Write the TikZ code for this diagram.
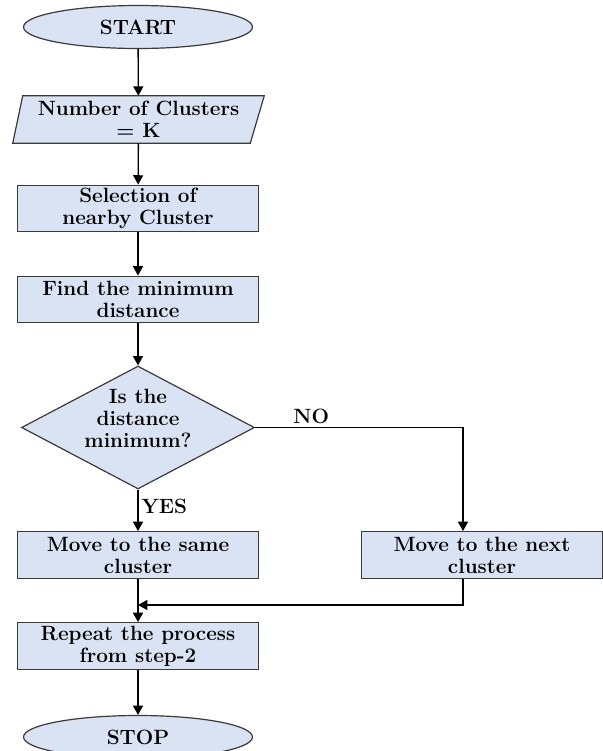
\documentclass[tikz,border=0pt]{standalone}
\usepackage{xcolor}
\usepackage{tikz}
\usetikzlibrary{shapes.geometric,arrows.meta,backgrounds}

\definecolor{boxfill}{HTML}{DAE3F3}
\definecolor{boxline}{HTML}{3A3A3A}

\begin{document}
\begin{tikzpicture}[x=0.75pt,y=-0.75pt,
        >={Triangle[width=7.5pt,length=7pt]},
        font=\fontsize{15.5}{16.5}\selectfont\bfseries,
        base/.style={draw=boxline,fill=boxfill,line width=0.9pt,align=center,inner sep=0pt},
        terminal/.style={base,ellipse,minimum width=171.75pt,minimum height=32.25pt},
        process/.style={base,rectangle,minimum width=180.75pt,minimum height=35pt},
        inout/.style={align=center,inner sep=0pt,minimum width=188.25pt,minimum height=35.25pt},
        decision/.style={base,diamond,aspect=1.9,inner sep=-6pt,
            minimum width=174.75pt,minimum height=92.25pt,text depth=13.5pt},
        flow/.style={->,line width=1pt},
        tag/.style={inner sep=2pt}]
        \useasboundingbox (0,0) rectangle (603,751);

        % main column
        \node[terminal] (start) at (138,27) {START};
        \node[inout] (clusters) at (138.5,119.5) {Number of Clusters\\= K};
        \node[process] (select) at (138,208.5) {Selection of\\nearby Cluster};
        \node[process] (findmin) at (138,299.5) {Find the minimum\\distance};
        \node[decision] (check) at (138,427.5) {Is the\\distance\\minimum?};
        \node[process] (same) at (138,555) {Move to the same\\cluster};
        \node[process] (repeat) at (138,646) {Repeat the process\\from step-2};
        \node[terminal] (stop) at (138,737) {STOP};

        % parallelogram behind the input text
        \begin{scope}[on background layer]
            \filldraw[draw=boxline,fill=boxfill,line width=0.9pt]
                ([xshift=7.5pt]clusters.north west) -- (clusters.north east)
                -- ([xshift=-10.5pt]clusters.south east) -- (clusters.south west) -- cycle;
        \end{scope}

        % right branch
        \node[process] (next) at (482,555) {Move to the next\\cluster};
        \coordinate (nocorner) at (463,427.5);
        \coordinate (join) at (138,605);

        \draw[flow] (start) -- (clusters);
        \draw[flow] (clusters) -- (select);
        \draw[flow] (select) -- (findmin);
        \draw[flow] (findmin) -- (check);
        \draw[flow] (check) -- node[tag,right,pos=0.4] (yes) {YES} (same);
        \draw[flow] (check.east) -- node[tag,above,pos=0.27] (no) {NO} (nocorner) -- (nocorner |- next.north);
        \draw[flow] (nocorner |- next.south) |- (join);
        \draw[flow] (same) -- (repeat);
        \draw[flow] (repeat) -- (stop);
    \end{tikzpicture}
\end{document}
